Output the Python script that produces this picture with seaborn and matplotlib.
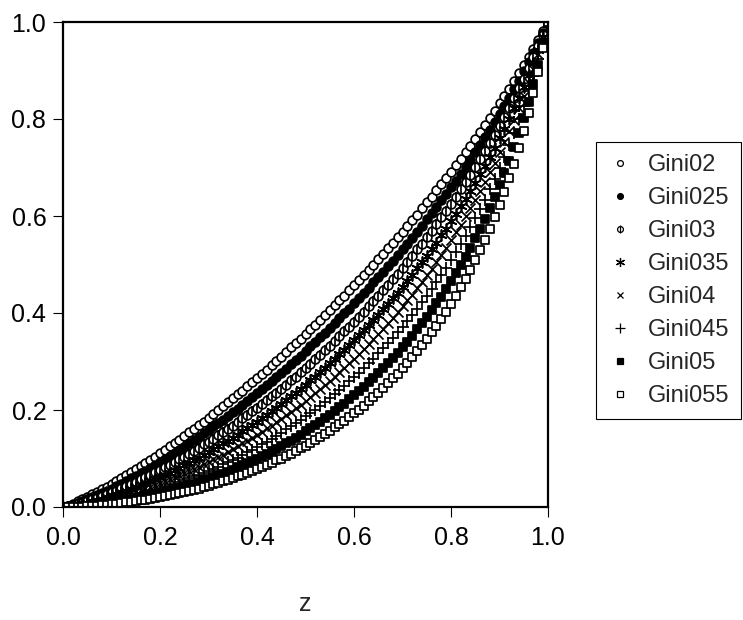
import matplotlib
matplotlib.use('Agg')
import matplotlib.pyplot as plt
import seaborn as sns
from matplotlib.lines import Line2D

names = ['Gini02', 'Gini025', 'Gini03', 'Gini035', 'Gini04', 'Gini045', 'Gini05', 'Gini055']
tick_labels = ['0.0', '0.2', '0.4', '0.6', '0.8', '1.0']
z = [0.00, 0.01, 0.02, 0.03, 0.04, 0.05, 0.06, 0.07, 0.08, 0.09,
     0.10, 0.11, 0.12, 0.13, 0.14, 0.15, 0.16, 0.17, 0.18, 0.19,
     0.20, 0.21, 0.22, 0.23, 0.24, 0.25, 0.26, 0.27, 0.28, 0.29,
     0.30, 0.31, 0.32, 0.33, 0.34, 0.35, 0.36, 0.37, 0.38, 0.39,
     0.40, 0.41, 0.42, 0.43, 0.44, 0.45, 0.46, 0.47, 0.48, 0.49,
     0.50, 0.51, 0.52, 0.53, 0.54, 0.55, 0.56, 0.57, 0.58, 0.59,
     0.60, 0.61, 0.62, 0.63, 0.64, 0.65, 0.66, 0.67, 0.68, 0.69,
     0.70, 0.71, 0.72, 0.73, 0.74, 0.75, 0.76, 0.77, 0.78, 0.79,
     0.80, 0.81, 0.82, 0.83, 0.84, 0.85, 0.86, 0.87, 0.88, 0.89,
     0.90, 0.91, 0.92, 0.93, 0.94, 0.95, 0.96, 0.97, 0.98, 0.99, 1.00]

gini02 = [0.0, .003, .007, .012, .016, .021, .026, .031, .037, .042, .048,
          .054, .060, .066, .072, .078, .084, .091, .097, .104, .111,
          .118, .125, .132, .139, .146, .154, .161, .169, .176, .184,
          .192, .200, .208, .216, .224, .232, .240, .249, .257, .266,
          .275, .283, .292, .301, .310, .319, .329, .338, .347, .357,
          .366, .376, .386, .396, .406, .416, .426, .436, .447, .457,
          .468, .478, .489, .500, .511, .522, .533, .545, .556, .568,
          .580, .591, .603, .616, .628, .640, .653, .665, .678, .691,
          .705, .718, .731, .745, .759, .773, .787, .802, .817, .832,
          .847, .862, .878, .894, .911, .928, .945, .963, .981, 1.0]
gini025 = [0.0, .002, .005, .009, .012, .016, .020, .025, .029, .034, .038,
           .043, .048, .054, .059, .064, .070, .075, .081, .087, .093,
           .099, .105, .112, .118, .124, .131, .138, .145, .152, .159,
           .166, .173, .180, .188, .195, .203, .211, .219, .227, .235,
           .243, .251, .260, .268, .277, .285, .294, .303, .312, .321,
           .331, .340, .350, .359, .369, .379, .389, .399, .409, .420,
           .430, .441, .452, .463, .474, .485, .496, .508, .519, .531,
           .543, .555, .568, .580, .593, .606, .619, .632, .646, .659,
           .673, .687, .702, .716, .731, .746, .762, .778, .794, .810,
           .827, .844, .861, .879, .898, .917, .937, .957, .978, 1.0]
gini03 = [0.0, .002, .004, .007, .009, .012, .016, .019, .023, .027, .030,
          .034, .039, .043, .047, .052, .057, .062, .066, .072, .077,
          .082, .087, .093, .099, .104, .110, .116, .122, .129, .135,
          .141, .148, .155, .161, .168, .175, .183, .190, .197, .205,
          .212, .220, .228, .236, .244, .252, .261, .269, .278, .287,
          .295, .305, .314, .323, .332, .342, .352, .362, .372, .382,
          .392, .403, .414, .424, .435, .447, .458, .470, .481, .493,
          .506, .518, .531, .543, .556, .570, .583, .597, .611, .625,
          .640, .655, .670, .685, .701, .717, .734, .751, .768, .786,
          .804, .823, .843, .863, .883, .905, .927, .950, .974, 1.0]
gini035 = [0.0, .001, .003, .005, .007, .009, .012, .015, .017, .020, .024,
           .027, .030, .034, .038, .041, .045, .049, .054, .058, .062,
           .067, .071, .076, .081, .086, .091, .097, .102, .107, .113,
           .119, .125, .131, .137, .143, .149, .156, .162, .169, .176,
           .183, .190, .198, .205, .212, .220, .228, .236, .244, .252,
           .261, .269, .278, .287, .296, .305, .315, .324, .334, .344,
           .354, .364, .375, .386, .396, .408, .419, .430, .442, .454,
           .466, .479, .492, .505, .518, .532, .545, .560, .574, .589,
           .604, .620, .636, .652, .669, .686, .704, .722, .740, .760,
           .780, .800, .822, .844, .867, .891, .916, .942, .970, 1.0]
gini04 = [0.0, .001, .002, .003, .005, .007, .009, .011, .013, .015, .018,
          .020, .023, .026, .029, .032, .035, .039, .042, .046, .049,
          .053, .057, .061, .065, .070, .074, .079, .083, .088, .093,
          .098, .103, .108, .114, .119, .125, .131, .137, .143, .149,
          .155, .162, .168, .175, .182, .189, .196, .204, .211, .219,
          .227, .235, .243, .252, .260, .269, .278, .287, .296, .306,
          .316, .326, .336, .346, .357, .368, .379, .390, .402, .414,
          .426, .438, .451, .464, .478, .491, .506, .520, .535, .550,
          .566, .582, .599, .616, .633, .652, .670, .690, .710, .731,
          .752, .775, .798, .823, .848, .875, .903, .934, .966, 1.0]
gini045 = [0.0, .000, .001, .002, .003, .005, .006, .008, .009, .011, .013,
           .015, .017, .019, .022, .024, .027, .030, .032, .035, .038,
           .041, .045, .048, .051, .055, .059, .063, .066, .070, .075,
           .079, .083, .088, .093, .097, .102, .107, .113, .118, .123,
           .129, .135, .141, .147, .153, .160, .166, .173, .180, .187,
           .194, .201, .209, .217, .225, .233, .241, .250, .259, .268,
           .277, .287, .296, .306, .317, .327, .338, .349, .360, .372,
           .384, .396, .409, .422, .436, .449, .464, .478, .493, .509,
           .525, .542, .559, .577, .595, .614, .634, .655, .676, .698,
           .722, .746, .772, .799, .827, .857, .889, .923, .960, 1.0]
gini05 = [0.0, .000, .001, .001, .002, .003, .004, .005, .006, .008, .009,
          .011, .012, .014, .016, .018, .020, .022, .024, .026, .029,
          .031, .034, .036, .039, .042, .045, .048, .051, .055, .058,
          .062, .066, .069, .073, .077, .082, .086, .090, .095, .100,
          .105, .110, .115, .120, .126, .131, .137, .143, .149, .156,
          .162, .169, .176, .183, .190, .198, .206, .213, .222, .230,
          .239, .248, .257, .266, .276, .286, .296, .307, .318, .329,
          .341, .353, .366, .379, .392, .406, .420, .434, .450, .465,
          .482, .499, .516, .535, .554, .574, .594, .616, .639, .663,
          .688, .714, .742, .771, .803, .836, .872, .911, .953, 1.0]
gini055 = [0.0, .000, .000, .001, .001, .002, .003, .003, .004, .005, .006,
           .007, .008, .010, .011, .012, .014, .015, .017, .019, .021,
           .022, .024, .027, .029, .031, .033, .036, .038, .041, .044,
           .047, .050, .053, .056, .060, .063, .067, .070, .074, .078,
           .082, .087, .091, .096, .100, .105, .110, .115, .121, .126,
           .132, .138, .144, .150, .157, .164, .171, .178, .185, .193,
           .201, .209, .218, .226, .236, .245, .255, .265, .275, .286,
           .297, .309, .321, .333, .346, .360, .374, .388, .403, .419,
           .435, .453, .471, .489, .509, .529, .551, .574, .598, .623,
           .650, .678, .708, .740, .775, .812, .853, .897, .946, 1.0]

sns.set_style('ticks')
plt.rcParams['font.family'] = ['Liberation Sans', 'DejaVu Sans']
fig = plt.figure(figsize=(7.43, 6.20), dpi=100)
ax = fig.add_axes([63 / 743, 113 / 620, 485 / 743, 485 / 620])

S = 40
LW = 1.25
sns.scatterplot(x=z, y=gini02, marker='o', s=S, color='white', edgecolor='black', linewidth=LW, ax=ax)
sns.scatterplot(x=z, y=gini025, marker='o', s=S, color='black', edgecolor='black', linewidth=LW, ax=ax)
sns.scatterplot(x=z, y=gini03, marker='o', s=S, color='white', edgecolor='black', linewidth=LW, ax=ax)
sns.scatterplot(x=z, y=gini03, marker='|', s=S * 1.3, color='black', linewidth=LW, ax=ax)
sns.scatterplot(x=z, y=gini035, marker=(6, 2, 0), s=S * 1.5, color='black', linewidth=LW, ax=ax)
sns.scatterplot(x=z, y=gini04, marker='x', s=S * 1.3, color='black', linewidth=LW, ax=ax)
sns.scatterplot(x=z, y=gini045, marker='+', s=S * 1.9, color='black', linewidth=LW, ax=ax)
sns.scatterplot(x=z, y=gini05, marker='s', s=S, color='black', edgecolor='black', linewidth=LW, ax=ax)
sns.scatterplot(x=z, y=gini055, marker='s', s=S, color='white', edgecolor='black', linewidth=LW, ax=ax)

ax.set_xlim(0, 1)
ax.set_ylim(0, 1)
ticks = [float(t) for t in tick_labels]
ax.set_xticks(ticks)
ax.set_yticks(ticks)
ax.set_xticklabels(tick_labels)
ax.set_yticklabels(tick_labels)
ax.tick_params(axis='both', direction='out', length=7, width=0.8, labelsize=18, colors='black')
ax.tick_params(axis='x', pad=7)
ax.tick_params(axis='y', pad=5)
for sp in ax.spines.values():
    sp.set_visible(True)
    sp.set_linewidth(1.6)
    sp.set_color('black')
ax.set_xlabel('z', fontsize=18, labelpad=30)
ax.set_ylabel('')

ms = 4.2
def h(marker, fc='black', size=ms):
    return Line2D([], [], ls='', marker=marker, markerfacecolor=fc, markeredgecolor='black',
                  color='black', markersize=size, markeredgewidth=0.9)
handles = [h('o', 'white'), h('o', 'black'), (h('o', 'white'), h('|', size=5.5)), h((6, 2, 0), size=6.5),
           h('x', size=5), h('+', size=6.5), h('s', 'black'), h('s', 'white')]
leg = ax.legend(handles, names, loc='upper left', bbox_to_anchor=(596 / 743, 1 - 142 / 620),
                bbox_transform=fig.transFigure, frameon=True, fancybox=False, edgecolor='black',
                framealpha=1, borderaxespad=0, fontsize=17, handlelength=1.0, handletextpad=0.7,
                labelspacing=0.47, borderpad=0.5)
leg.get_frame().set_linewidth(0.8)

fig.savefig('out.png', dpi=100)
